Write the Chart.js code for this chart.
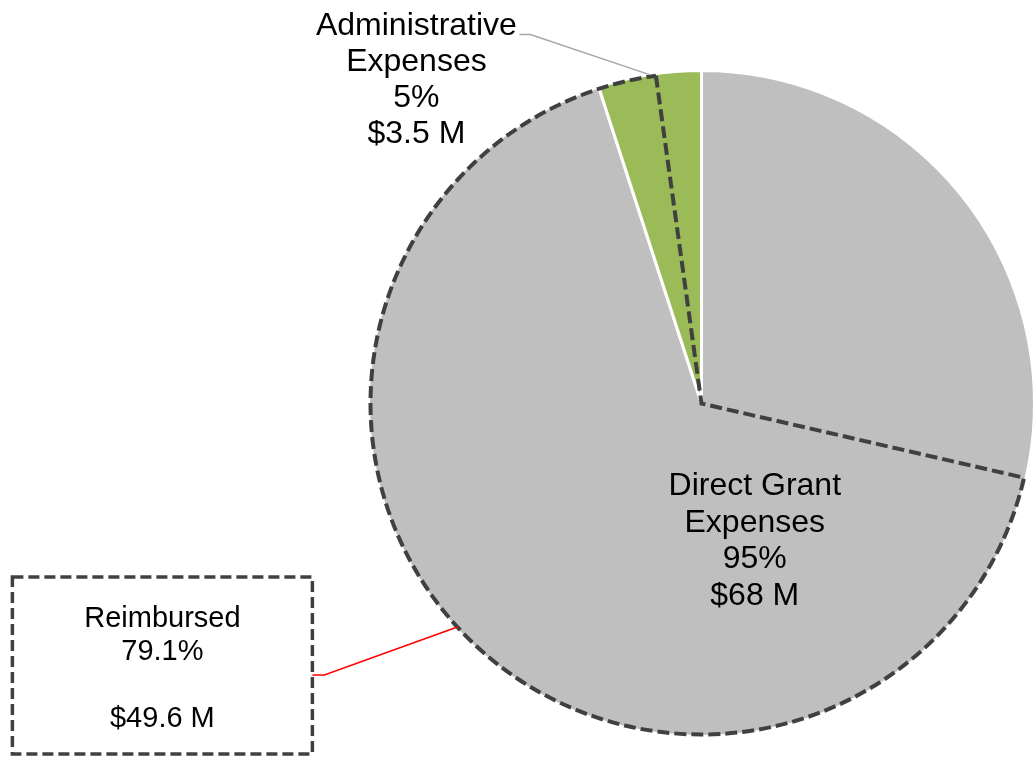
<!DOCTYPE html>
<html><head><meta charset="utf-8">
<script src="https://cdn.jsdelivr.net/npm/chart.js@4.4.1/dist/chart.umd.min.js"></script>
<style>
html,body{margin:0;padding:0;background:#fff;overflow:hidden;}
#wrap{position:relative;width:1040px;height:758px;}
canvas{display:block;}
</style></head><body>
<div id="wrap"><canvas id="c" width="1040" height="758"></canvas></div>
<script>
// ---- data ----
const categories = ['Direct Grant Expenses', 'Administrative Expenses'];
const categoryLines = [['Direct Grant', 'Expenses'], ['Administrative', 'Expenses']];
const shareValues = [95, 5];
const shareLabels = ['95%', '5%'];
const amountLabels = ['$68 M', '$3.5 M'];
const sliceColors = ['#BFBFBF', '#9BBB59'];
const reimbursedLines = ['Reimbursed', '79.1%', '', '$49.6 M'];
const reimbursedWedge = [28.6, 97.8]; // start / end of the outlined wedge, percent of full circle

const FONT = '"Liberation Sans", Arial, Helvetica, sans-serif';

const overlay = {
  id: 'overlay',
  afterDatasetsDraw(chart) {
    const ctx = chart.ctx;
    const arcs = chart.getDatasetMeta(0).data;
    const cx = arcs[0].x, cy = arcs[0].y, R = arcs[0].outerRadius;
    const base = arcs[0].startAngle;
    const a1 = base + reimbursedWedge[0] / 100 * 2 * Math.PI;
    const a2 = base + reimbursedWedge[1] / 100 * 2 * Math.PI;
    const r = R - 2;
    ctx.save();
    // dashed wedge
    ctx.strokeStyle = '#404040';
    ctx.lineWidth = 4;
    ctx.setLineDash([12, 5]);
    ctx.lineJoin = 'miter';
    ctx.beginPath();
    ctx.moveTo(cx + r * Math.cos(a2), cy + r * Math.sin(a2));
    ctx.lineTo(cx, cy);
    ctx.lineTo(cx + r * Math.cos(a1), cy + r * Math.sin(a1));
    ctx.arc(cx, cy, r, a1, a2);
    ctx.stroke();
    ctx.setLineDash([]);

    // Direct grant label (inside)
    ctx.fillStyle = '#000';
    ctx.font = '32px ' + FONT;
    ctx.textAlign = 'center';
    ctx.textBaseline = 'alphabetic';
    const dLines = [...categoryLines[0], shareLabels[0], amountLabels[0]];
    const dx = cx + 0.16 * R, dy = cy + 0.276 * R;
    dLines.forEach((t, i) => ctx.fillText(t, dx, dy + i * 36.5));

    // Administrative label with leader
    const am = (arcs[1].startAngle + arcs[1].endAngle) / 2;
    const ax = cx + R * Math.cos(am), ay = cy + R * Math.sin(am);
    const ex = ax - 119, ey = ay - 40;
    ctx.strokeStyle = '#A6A6A6';
    ctx.lineWidth = 1.5;
    ctx.beginPath();
    ctx.moveTo(ax, ay); ctx.lineTo(ex, ey); ctx.lineTo(ex - 11, ey);
    ctx.stroke();
    const aLines = [...categoryLines[1], shareLabels[1], amountLabels[1]];
    aLines.forEach((t, i) => ctx.fillText(t, ex - 114, ey + 0.5 + i * 36));

    // Reimbursed callout
    const rm = (a1 + a2) / 2;
    const rx = cx + r * Math.cos(rm), ry = cy + r * Math.sin(rm);
    const kx = rx - 133, ky = ry + 48;
    ctx.strokeStyle = '#FF0000';
    ctx.lineWidth = 1.6;
    ctx.beginPath();
    ctx.moveTo(rx, ry); ctx.lineTo(kx, ky); ctx.lineTo(kx - 12, ky);
    ctx.stroke();
    const bx = kx - 312, by = ky - 98, bw = 300, bh = 177;
    ctx.strokeStyle = '#404040';
    ctx.lineWidth = 3.5;
    ctx.setLineDash([11, 5]);
    ctx.strokeRect(bx, by, bw, bh);
    ctx.setLineDash([]);
    ctx.font = '29px ' + FONT;
    reimbursedLines.forEach((t, i) => ctx.fillText(t, bx + bw / 2, by + 50 + i * 33.3));
    ctx.restore();
  }
};

new Chart(document.getElementById('c'), {
  type: 'pie',
  data: {
    labels: categories,
    datasets: [{
      data: shareValues,
      backgroundColor: sliceColors,
      borderColor: '#FFFFFF',
      borderWidth: 3
    }]
  },
  options: {
    responsive: false,
    animation: false,
    events: [],
    layout: { padding: { left: 367, right: 4, top: 69, bottom: 20 } },
    plugins: { legend: { display: false }, tooltip: { enabled: false } }
  },
  plugins: [overlay]
});
</script>
</body></html>
